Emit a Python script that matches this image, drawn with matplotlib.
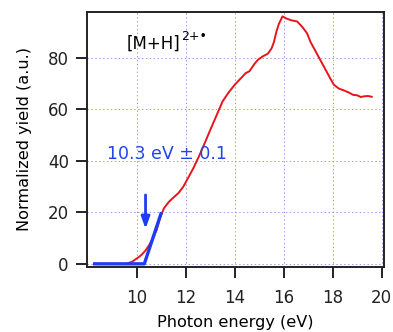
import matplotlib
matplotlib.use("Agg")
import matplotlib.pyplot as plt

# red: measured yield
energy = [9.65, 9.8, 9.95, 10.1, 10.2, 10.35, 10.5, 10.65, 10.8, 10.95,
          11.1, 11.3, 11.5, 11.7, 11.9, 12.1, 12.3, 12.55, 12.8, 13.0,
          13.25, 13.5, 13.75, 14.0, 14.25, 14.45, 14.6, 14.8, 14.95, 15.15,
          15.35, 15.5, 15.6, 15.7, 15.8, 15.95, 16.1, 16.3, 16.55, 16.75,
          16.95, 17.1, 17.3, 17.5, 17.7, 17.9, 18.05, 18.25, 18.45, 18.65,
          18.85, 19.0, 19.15, 19.3, 19.45, 19.6]
yield_ = [0.3, 0.8, 1.8, 2.8, 3.6, 5.2, 7.3, 9.8, 13, 18,
          21.5, 24, 25.8, 27.5, 30, 33.5, 37, 42, 47.5, 52,
          57.5, 63, 66.5, 69.5, 72, 74, 74.7, 77.5, 79.2, 80.5,
          81.5, 83.5, 86, 90, 93, 96, 95.2, 94.5, 94, 92,
          89.5, 86, 82.5, 79, 75.5, 72, 69.5, 68, 67.3, 66.5,
          65.5, 65.4, 64.7, 65, 65.1, 64.8]

# blue: linear threshold fit
fit_x = [8.2, 10.3, 11.0]
fit_y = [0, 0, 20]

onset = 10.3
onset_label = "10.3 eV ± 0.1"
ion_label = "[M+H]"
ion_charge = "2+•"

fig = plt.figure(figsize=(3.93, 3.32), dpi=100)
ax = fig.add_axes([0.221, 0.196, 0.756, 0.768])

ax.grid(True, color="#9a9af2", linestyle=(0, (1.5, 2.5)), linewidth=0.7)
ax.set_axisbelow(True)

ax.plot(energy, yield_, color="#e8141c", linewidth=1.4)
ax.plot(fit_x, fit_y, color="#1e3cf5", linewidth=2.4, solid_capstyle="butt")

ax.annotate("", xy=(onset + 0.05, 12.5), xytext=(onset + 0.05, 27.8),
            arrowprops=dict(arrowstyle="-|>,head_length=0.7,head_width=0.25",
                            color="#1e3cf5", lw=2))

ax.text(8.78, 40.8, onset_label, color="#2244ee", fontsize=12.5, va="baseline")
ion = ax.text(9.59, 85.3, ion_label, color="black", fontsize=12, va="center")

ax.set_xlim(7.95, 20.1)
ax.set_ylim(-1.2, 97.7)
ax.set_xticks([10, 12, 14, 16, 18, 20])
ax.set_yticks([0, 20, 40, 60, 80])
ax.tick_params(direction="out", length=8, width=1.4, labelsize=12, colors="#222222")
ax.tick_params(axis="x", pad=8)
ax.tick_params(axis="y", pad=5)
for s in ax.spines.values():
    s.set_linewidth(1.4)
    s.set_color("#222222")

ax.set_xlabel("Photon energy (eV)", fontsize=11.6, labelpad=6)
ax.set_ylabel("Normalized yield (a.u.)", fontsize=11.6, labelpad=11)

# superscript charge placed right after the ion label
fig.canvas.draw()
bb = ion.get_window_extent()
ax.annotate(ion_charge, xy=(bb.x1, bb.y1), xycoords="figure pixels",
            xytext=(0.5, -1), textcoords="offset points",
            fontsize=9, va="center", ha="left", color="black")

fig.savefig("out.png", dpi=100)
